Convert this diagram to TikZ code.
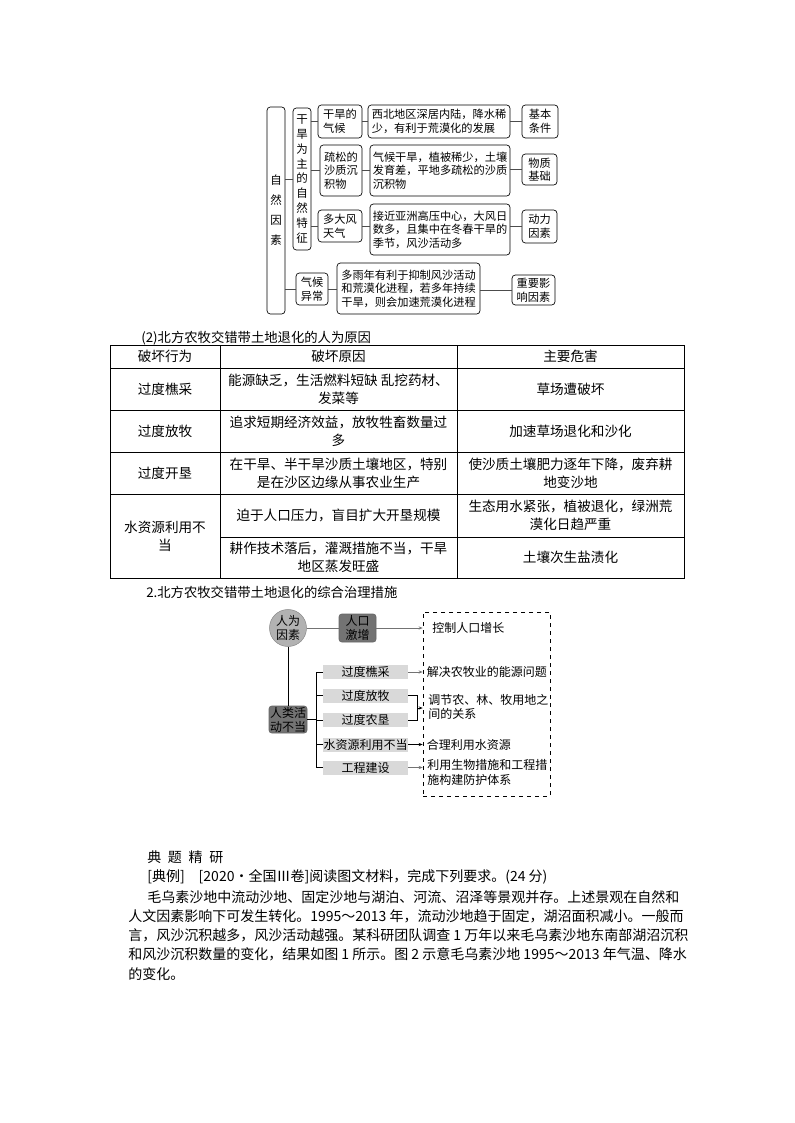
\documentclass[tikz,border=0pt]{standalone}
\usepackage{fontspec}
\setmainfont{Noto Sans CJK SC}
\usetikzlibrary{arrows.meta, positioning, calc}
\newlength{\unitpx}\setlength{\unitpx}{0.75pt}

\begin{document}
\begin{tikzpicture}[x=0.75pt, y=-0.75pt,
  vbox/.style={draw, rectangle, rounded corners=2.5pt, align=center, inner sep=0pt, line width=0.5pt},
  tag/.style={draw, rectangle, rounded corners=2.5pt, align=left, inner sep=1pt, line width=0.5pt, font=\fontsize{8.4}{10.2}\selectfont},
  desc/.style={draw, rectangle, rounded corners=2.5pt, align=left, inner sep=1pt, line width=0.5pt, font=\fontsize{8.4}{10.2}\selectfont},
  link/.style={draw=black!70, line width=0.6pt},
  tline/.style={line width=0.6pt},
  cell/.style={align=center, inner sep=0pt, font=\fontsize{10.2}{13.5}\selectfont},
  dark/.style={draw=black!60, fill=black!55, rectangle, rounded corners=2pt, align=center, inner sep=0pt, font=\fontsize{9}{10.5}\selectfont},
  bar/.style={fill=black!15, rectangle, inner sep=0pt, minimum width=85\unitpx, minimum height=14\unitpx, font=\fontsize{9}{10}\selectfont},
  res/.style={anchor=west, align=left, inner sep=0pt, font=\fontsize{9}{10}\selectfont},
  garr/.style={draw=black!55, line width=0.6pt, -{Stealth[length=3pt, width=2.4pt]}},
  barr/.style={draw=black, line width=0.6pt, -{Stealth[length=3pt, width=2.4pt]}},
  txt/.style={anchor=west, inner sep=0pt, font=\fontsize{10.5}{12}\selectfont}
]
\useasboundingbox[fill=white] (0,0) rectangle (794,1123);

% ---- natural factors ----
\node[vbox, minimum width=18\unitpx, minimum height=207\unitpx, font=\fontsize{8.6}{15}\selectfont] (nat) at (276,210.5) {自\\然\\因\\素};
\node[vbox, minimum width=18\unitpx, minimum height=142\unitpx, font=\fontsize{8.6}{11.2}\selectfont] (arid) at (302,179) {干\\旱\\为\\主\\的\\自\\然\\特\\征};
\node[tag, minimum width=44\unitpx, minimum height=33\unitpx] (clim) at (340,121.5) {干旱的\\气候};
\node[tag, minimum width=42\unitpx, minimum height=51\unitpx] (sand) at (341,170.5) {疏松的\\沙质沉\\积物};
\node[tag, minimum width=44\unitpx, minimum height=32\unitpx] (wind) at (340,226) {多大风\\天气};
\node[tag, minimum width=32\unitpx, minimum height=32\unitpx] (abn) at (312,289) {气候\\异常};

\node[desc, minimum width=142\unitpx, minimum height=33\unitpx] (d1) at (439,121.5) {西北地区深居内陆，降水稀\\少，有利于荒漠化的发展};
\node[desc, minimum width=140\unitpx, minimum height=51\unitpx] (d2) at (440,170.5) {气候干旱，植被稀少，土壤\\发育差，平地多疏松的沙质\\沉积物};
\node[desc, minimum width=140\unitpx, minimum height=51\unitpx] (d3) at (440,229.5) {接近亚洲高压中心，大风日\\数多，且集中在冬春干旱的\\季节，风沙活动多};
\node[desc, minimum width=143\unitpx, minimum height=51\unitpx] (d4) at (408.5,288.5) {多雨年有利于抑制风沙活动\\和荒漠化进程，若多年持续\\干旱，则会加速荒漠化进程};

\node[tag, align=center, minimum width=36\unitpx, minimum height=33\unitpx] (r1) at (540,121.5) {基本\\条件};
\node[tag, align=center, minimum width=35\unitpx, minimum height=31\unitpx] (r2) at (539.5,169.5) {物质\\基础};
\node[tag, align=center, minimum width=35\unitpx, minimum height=33\unitpx] (r3) at (539.5,226.5) {动力\\因素};
\node[tag, align=center, minimum width=43\unitpx, minimum height=30\unitpx] (r4) at (533.5,290) {重要影\\响因素};

\draw[link] (arid.west) -- (arid.west -| nat.east);
\draw[link] (abn.west) -- (abn.west -| nat.east);
\draw[link] (clim.west) -- (clim.west -| arid.east);
\draw[link] (sand.west) -- (sand.west -| arid.east);
\draw[link] (wind.west) -- (wind.west -| arid.east);
\draw[link] (clim.east) -- (d1.west);
\draw[link] (sand.east) -- (d2.west);
\draw[link] (wind.east) -- (wind.east -| d3.west);
\draw[link] (abn.east) -- (abn.east -| d4.west);
\draw[link] (d1.east) -- (r1.west);
\draw[link] (r2.west -| d2.east) -- (r2.west);
\draw[link] (r3.west -| d3.east) -- (r3.west);
\draw[link] (r4.west -| d4.east) -- (r4.west);

% ---- table: human causes ----
\node[anchor=west, inner sep=0pt, font=\fontsize{10}{12}\selectfont] (cap2) at (141,338) {(2)北方农牧交错带土地退化的人为原因};
\draw[tline] (110,345) rectangle (684,578);
\draw[tline] (220,345) -- (220,578);
\draw[tline] (457,345) -- (457,578);
\foreach \y in {368,410,452,494} \draw[tline] (110,\y) -- (684,\y);
\draw[tline] (220,537) -- (684,537);

\node[cell] (h1) at (165,356.5) {破坏行为};
\node[cell] (h2) at (338.5,356.5) {破坏原因};
\node[cell] (h3) at (570.5,356.5) {主要危害};

\node[cell] (a1) at (165,389) {过度樵采};
\node[cell] (b1c) at (338.5,389) {能源缺乏，生活燃料短缺 乱挖药材、\\发菜等};
\node[cell] (c1) at (570.5,389) {草场遭破坏};

\node[cell] (a2) at (165,431) {过度放牧};
\node[cell] (b2c) at (338.5,431) {追求短期经济效益，放牧牲畜数量过\\多};
\node[cell] (c2) at (570.5,431) {加速草场退化和沙化};

\node[cell] (a3) at (165,473) {过度开垦};
\node[cell] (b3c) at (338.5,473) {在干旱、半干旱沙质土壤地区，特别\\是在沙区边缘从事农业生产};
\node[cell] (c3) at (570.5,473) {使沙质土壤肥力逐年下降，废弃耕\\地变沙地};

\node[cell] (a4) at (165,536) {水资源利用不\\当};
\node[cell] (b4c) at (338.5,515.5) {迫于人口压力，盲目扩大开垦规模};
\node[cell] (c4) at (570.5,515.5) {生态用水紧张，植被退化，绿洲荒\\漠化日趋严重};
\node[cell] (b5c) at (338.5,557.5) {耕作技术落后，灌溉措施不当，干旱\\地区蒸发旺盛};
\node[cell] (c5) at (570.5,557.5) {土壤次生盐渍化};

% ---- measures ----
\node[anchor=west, inner sep=0pt, font=\fontsize{10}{12}\selectfont] (cap3) at (146,592) {2.北方农牧交错带土地退化的综合治理措施};

\node[draw, dashed, line width=0.5pt, minimum width=127\unitpx, minimum height=184\unitpx] (goal) at (486.5,704) {};
\node[circle, draw=black!45, fill=black!30, minimum size=37\unitpx, inner sep=0pt, align=center, font=\fontsize{9}{10.5}\selectfont] (hum) at (288,628) {人为\\因素};
\node[dark, minimum width=37\unitpx, minimum height=28\unitpx] (pop) at (357.5,628) {人口\\激增};
\node[dark, minimum width=38\unitpx, minimum height=27\unitpx] (act) at (288,719.5) {人类活\\动不当};

\node[bar] (k1) at (365.5,672) {过度樵采};
\node[bar] (k2) at (365.5,695.5) {过度放牧};
\node[bar] (k3) at (365.5,720) {过度农垦};
\node[bar] (k4) at (365.5,744.5) {水资源利用不当};
\node[bar] (k5) at (365.5,767.5) {工程建设};
\coordinate (spine) at (316,672);
\coordinate (brk) at (417,708);

\draw[draw=black!55, line width=0.6pt] (hum.east) -- (pop.west);
\draw[garr] (pop.east) -- (pop.east -| goal.west);
\draw[tline] (hum.south) -- (act.north);
\draw[tline] (act.east) -- (act.east -| spine);
\draw[tline] (spine |- k1.west) -- (spine |- k5.west);
\foreach \k in {k1,k2,k3,k4,k5} \draw[tline] (\k.west) -- (\k.west -| spine);
\draw[garr] (k1.east) -- (k1.east -| goal.west);
\draw[tline] (k2.east) -| (brk |- k2.east) -- (brk |- k3.east) -- (k3.east);
\draw[barr] (brk) -- (brk -| goal.west);
\draw[barr] (k4.east) -- (k4.east -| goal.west);
\draw[garr] (k5.east) -- (k5.east -| goal.west);

\node[res] (g1) at (432,628) {控制人口增长};
\node[res] (g2) at (426.5,672) {解决农牧业的能源问题};
\node[res, font=\fontsize{9}{10}\selectfont] (g3) at (428,707) {调节农、林、牧用地之\\间的关系};
\node[res] (g4) at (426.5,745) {合理利用水资源};
\node[res, font=\fontsize{9}{11}\selectfont] (g5) at (427,772.5) {利用生物措施和工程措\\施构建防护体系};

% ---- example text ----
\node[txt] (l0) at (147,857) {典\hspace{5pt}题\hspace{5pt}精\hspace{5pt}研};
\node[txt] (l1) at (147,877) {[典例]\quad[2020·全国Ⅲ卷]阅读图文材料，完成下列要求。(24 分)};
\node[txt] (l2) at (147,897) {毛乌素沙地中流动沙地、固定沙地与湖泊、河流、沼泽等景观并存。上述景观在自然和};
\node[txt] (l3) at (128,916) {人文因素影响下可发生转化。1995～2013 年，流动沙地趋于固定，湖沼面积减小。一般而};
\node[txt] (l4) at (128,935) {言，风沙沉积越多，风沙活动越强。某科研团队调查 1 万年以来毛乌素沙地东南部湖沼沉积};
\node[txt] (l5) at (128,954) {和风沙沉积数量的变化，结果如图 1 所示。图 2 示意毛乌素沙地 1995～2013 年气温、降水};
\node[txt] (l6) at (128,974) {的变化。};
\end{tikzpicture}
\end{document}
